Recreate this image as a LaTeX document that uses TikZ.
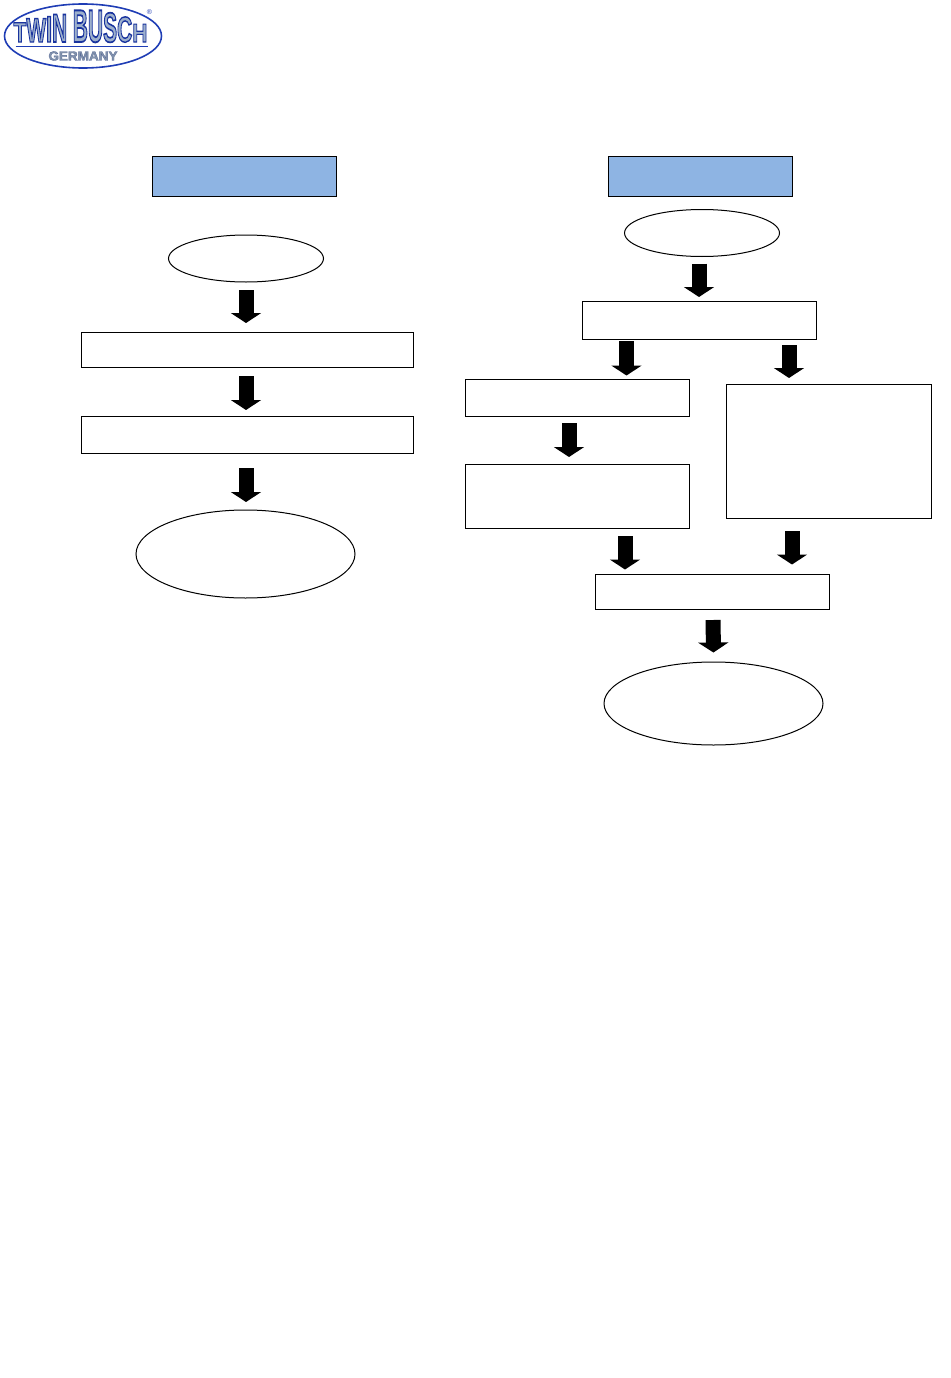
\documentclass[tikz,border=0pt]{standalone}
\usepackage{fontspec}
\usepackage{graphicx}
\usetikzlibrary{arrows.meta, shapes.geometric}
\setmainfont{Liberation Sans}
\definecolor{headblue}{HTML}{8EB4E3}
\definecolor{logoblue}{HTML}{1F3DB5}
\definecolor{logogrey}{HTML}{9DB0CC}
% one logo letter, stretched upward from the baseline
\newcommand{\logochar}[2]{\scalebox{1.05}[#1]{\special{pdf:code 2 Tr 0.8 w 0.10 0.20 0.62 RG}#2}}
\tikzset{
  headbox/.style={draw, line width=1pt, fill=headblue, inner sep=0pt, outer sep=0pt, minimum width=184pt, minimum height=40pt},
  stepbox/.style={draw, line width=1pt, fill=white, inner sep=0pt, outer sep=0pt},
  endcap/.style={draw, ellipse, line width=1pt, fill=white, inner sep=0pt, outer sep=0pt},
  blockarrow/.style 2 args={line width=15pt, -{Triangle[length=10pt,width=30pt]}, shorten <=#1pt, shorten >=#2pt},
}
\begin{document}
\begin{tikzpicture}[x=1pt, y=-1pt]
  \useasboundingbox (0,0) rectangle (950,1378);
  % logo
  \node[draw=logoblue, ellipse, line width=1.6pt, fill=white, inner sep=0pt, minimum width=157pt, minimum height=64pt] (logoring) at (83,36) {};
  \node[anchor=base, font=\bfseries\fontsize{20}{20}\selectfont, text=logogrey, inner sep=0pt] (logoname) at (80.5,42) {\logochar{1.4}{T}\logochar{1.7}{W}\logochar{1.85}{I}\logochar{2.0}{N} \logochar{2.3}{B}\logochar{2.3}{U}\logochar{2.1}{S}\logochar{1.8}{C}\logochar{1.3}{H}};
  \draw[logoblue, line width=1.6pt] ([xshift=-65pt,yshift=-4.5pt]logoname.base) -- ([xshift=67pt,yshift=-4.5pt]logoname.base);
  \node[font=\bfseries\fontsize{13}{13}\selectfont, text=logogrey!85!black, inner sep=0pt] (logoland) at (83,56) {\scalebox{1.04}[1]{\special{pdf:code 2 Tr 0.35 w 0.35 0.42 0.60 RG}GERMANY}};
  \node[font=\fontsize{7}{7}\selectfont, text=logoblue, inner sep=0pt] (logoreg) at (149.5,12) {®};
  % left chart
  \node[headbox] (headL) at (244.5,176.5) {};
  \node[endcap, minimum width=155pt, minimum height=47pt] (startL) at (246,258.5) {};
  \node[stepbox, minimum width=332pt, minimum height=35pt] (boxLa) at (247,349.5) {};
  \node[stepbox, minimum width=332pt, minimum height=37pt] (boxLb) at (247,434.5) {};
  \node[endcap, minimum width=219pt, minimum height=88pt] (endL) at (245.5,554) {};
  % right chart
  \node[headbox] (headR) at (700.5,176.5) {};
  \node[endcap, minimum width=155pt, minimum height=47pt] (startR) at (702,233) {};
  \node[stepbox, minimum width=234pt, minimum height=38pt] (boxRa) at (699,320) {};
  \node[stepbox, minimum width=224pt, minimum height=37pt] (boxRb) at (577,398) {};
  \node[stepbox, minimum width=224pt, minimum height=64pt] (boxRc) at (577,496) {};
  \node[stepbox, minimum width=205pt, minimum height=134pt] (boxRd) at (828.5,451) {};
  \node[stepbox, minimum width=234pt, minimum height=35pt] (boxRe) at (712.5,592) {};
  \node[endcap, minimum width=219pt, minimum height=83pt] (endR) at (713.5,703.5) {};
  % block arrows
  \draw[blockarrow={8}{9}] (startL.south) -- ([xshift=-1pt]boxLa.north);
  \draw[blockarrow={9}{6}] ([xshift=-1pt]boxLa.south) -- ([xshift=-1pt]boxLb.north);
  \draw[blockarrow={15}{8}] ([xshift=-1pt]boxLb.south) -- ([xshift=.5pt]endL.north);
  \draw[blockarrow={7}{4}] ([xshift=-3pt]startR.south) -- (boxRa.north);
  \draw[blockarrow={2}{4}] ([xshift=-72.5pt]boxRa.south) -- ([xshift=49.5pt]boxRb.north);
  \draw[blockarrow={6}{6}] ([xshift=90pt]boxRa.south) -- ([xshift=-39.5pt]boxRd.north);
  \draw[blockarrow={6.5}{7}] ([xshift=-8pt]boxRb.south) -- ([xshift=-8pt]boxRc.north);
  \draw[blockarrow={8}{5}] ([xshift=48pt]boxRc.south) -- ([xshift=-87.5pt]boxRe.north);
  \draw[blockarrow={13}{10}] ([xshift=-36.5pt]boxRd.south) -- ([xshift=79.5pt]boxRe.north);
  \draw[blockarrow={10.5}{9.5}] ([xshift=.5pt]boxRe.south) -- (endR.north);
\end{tikzpicture}
\end{document}
